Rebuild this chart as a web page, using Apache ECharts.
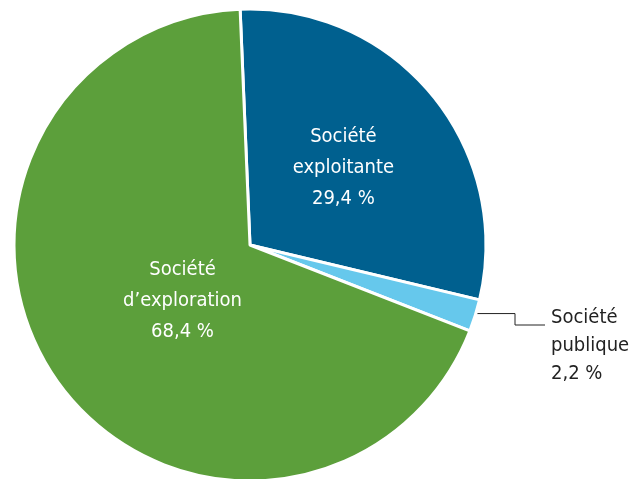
<!DOCTYPE html>
<html><head><meta charset="utf-8">
<script src="https://cdn.jsdelivr.net/npm/echarts@6/dist/echarts.min.js"></script>
<style>html,body{margin:0;padding:0;background:#fff}#c{width:637px;height:479px}</style>
</head><body><div id="c"></div>
<script>
const categories = ['Société\nexploitante', 'Société\npublique', 'Société\nd’exploration'];
const values = [29.4, 2.2, 68.4];
const colors = ['#00608F', '#66C8EC', '#5C9F3B'];

const FONT = '"Liberation Sans Narrow", "DejaVu Sans Condensed", sans-serif';
const chart = echarts.init(document.getElementById('c'), null, {renderer: 'canvas'});
chart.setOption({
  animation: false,
  series: [{
    type: 'pie',
    center: [250, 245],
    radius: [0, 236],
    startAngle: 92.4,
    clockwise: true,
    avoidLabelOverlap: false,
    itemStyle: {borderColor: '#fff', borderWidth: 3},
    label: {
      position: 'inside',
      color: '#fff',
      fontFamily: FONT,
      fontSize: 20,
      lineHeight: 31,
      align: 'center',
      formatter: p => p.name + '\n' + p.value.toFixed(1).replace('.', ',') + ' %'
    },
    labelLine: {show: false},
    data: categories.map((c, i) => {
      const d = {name: c, value: values[i], itemStyle: {color: colors[i]}};
      if (i === 1) {
        d.label = {position: 'outside', color: '#222', lineHeight: 28};
        d.labelLine = {show: true, length: 30, length2: 30, lineStyle: {color: '#222', width: 1}};
      }
      return d;
    }),
    labelLayout: function (p) {
      if (p.dataIndex === 2) return {dx: 31, dy: -15};
      if (p.dataIndex === 1) {
        const p0 = p.labelLinePoints ? p.labelLinePoints[0] : [477, 314];
        const lx = 551, ly = 346;
        const yEnd = ly - 21;
        return {
          x: lx, y: ly, align: 'left', verticalAlign: 'middle',
          labelLinePoints: [[p0[0] + 2, p0[1] - 2], [515, p0[1] - 2], [515, yEnd], [lx - 6, yEnd]]
        };
      }
      return {};
    }
  }]
});
</script></body></html>
